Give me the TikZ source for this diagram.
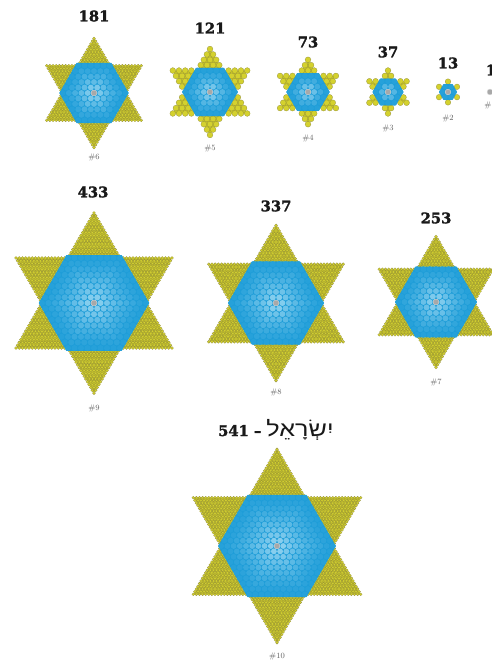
\documentclass[tikz,border=0pt]{standalone}
\usepackage{fontspec}
\newfontfamily\numfont[BoldFont={DejaVu Serif Bold}, BoldFeatures={FakeBold=1.8}]{DejaVu Serif}
\newfontfamily\hebfont[Script=Hebrew]{Liberation Sans}
\TeXXeTstate=1
\definecolor{ylwbg}{HTML}{CBC826}
\definecolor{ylwdot}{HTML}{D4D12E}
\definecolor{ylwline}{HTML}{8E8A3A}
\definecolor{bluebg}{HTML}{1E9DD8}
\definecolor{bluelt}{HTML}{A8DEF5}
\definecolor{centre}{HTML}{A8A8A8}
\definecolor{centreline}{HTML}{D8D8D8}
\tikzset{
  numlabel/.style={font=\numfont\bfseries\fontsize{14.7}{16}\selectfont, text=black!90, inner sep=0pt},
  idlabel/.style={font=\fontsize{8}{9}\selectfont, text=black!62, inner sep=0pt},
}
\newif\ifhsin
% #1 a, #2 b, #3 M : true if point is in the hexagram of order M but outside its hexagon
\newcommand\hsstartest[3]{%
  \hsinfalse
  \edef\hsc{\the\numexpr#1+#2\relax}%
  \ifnum#1>#3 \else\ifnum#2>#3 \else\ifnum\hsc<-#3 \else\hsintrue\fi\fi\fi
  \ifnum#1<-#3 \else\ifnum#2<-#3 \else\ifnum\hsc>#3 \else\hsintrue\fi\fi\fi
  \ifhsin
    \ifnum#1>#3 \else\ifnum#1<-#3 \else\ifnum#2>#3 \else\ifnum#2<-#3 \else
      \ifnum\hsc>#3 \else\ifnum\hsc<-#3 \else\hsinfalse\fi\fi\fi\fi\fi\fi
  \fi
}
% #1 cx, #2 cy, #3 m (=n-1), #4 spacing, #5 fineness of the yellow lattice
\newcommand\hexstar[5]{%
  \begin{scope}[shift={(#1,#2)}]
    \pgfmathsetmacro\sd{#4}%
    \pgfmathsetmacro\sdh{#4/#5}%
    \pgfmathsetmacro\sr{0.47*#4}%
    \pgfmathsetmacro\srh{0.47*#4/#5}%
    \pgfmathsetmacro\sR{1.7320508*#3*#4}%
    \pgfmathsetmacro\sH{(#3+0.5)*#4}%
    \edef\sm{#3}%
    \edef\sM{\the\numexpr#5*#3\relax}%
    \edef\sMM{\the\numexpr2*#5*#3\relax}%
    \fill[ylwbg] (90:\sR) -- (210:\sR) -- (330:\sR) -- cycle;
    \fill[ylwbg] (30:\sR) -- (150:\sR) -- (270:\sR) -- cycle;
    \foreach \a in {-\sMM,...,\sMM}{%
      \foreach \b in {-\sMM,...,\sMM}{%
        \hsstartest{\a}{\b}{\sM}%
        \ifhsin
          \filldraw[fill=ylwdot, draw=ylwline, line width=0.22] ({(\a+0.5*\b)*\sdh},{0.8660254*\b*\sdh}) circle (\srh);
        \fi
      }%
    }%
    \fill[bluebg] (0:\sH) -- (60:\sH) -- (120:\sH) -- (180:\sH) -- (240:\sH) -- (300:\sH) -- cycle;
    \foreach \a in {-\sm,...,\sm}{%
      \foreach \b in {-\sm,...,\sm}{%
        \pgfmathtruncatemacro\sk{max(abs(\a),abs(\b),abs(\a+\b))}%
        \ifnum\sk=0
          \filldraw[fill=centre, draw=centreline, line width=0.4] (0,0) circle (\sr);
        \else\ifnum\sk>\sm \else
          \pgfmathtruncatemacro\spct{6+82*(1-\sk/\sm)^1.3}%
          \fill[bluelt!\spct!bluebg] ({(\a+0.5*\b)*\sd},{0.8660254*\b*\sd}) circle (\sr);
        \fi\fi
      }%
    }%
  \end{scope}%
}
\begin{document}
\begin{tikzpicture}[x=1pt,y=-1pt]
\useasboundingbox (0,0) rectangle (491,661);
\fill[white] (0,0) rectangle (491,661);
% row 1
\hexstar{94}{93}{5}{6.3}{2}
\hexstar{210}{92}{4}{6.2}{1}
\hexstar{308}{92}{3}{6.2}{1}
\hexstar{388}{92}{2}{6.2}{1}
\hexstar{448}{92}{1}{6.0}{1}
\filldraw[fill=centre, draw=centreline, line width=0.4] (490,92) circle (2.9);
% row 2
\hexstar{94}{303}{8}{6.5}{2}
\hexstar{276}{303}{7}{6.4}{2}
\hexstar{436}{302}{6}{6.3}{2}
% row 3
\hexstar{277}{546}{9}{6.2}{2}
% labels
\node[numlabel] (n6) at (94,16) {181};
\node[numlabel] (n5) at (210,28) {121};
\node[numlabel] (n4) at (308,42) {73};
\node[numlabel] (n3) at (388,52) {37};
\node[numlabel] (n2) at (448,63) {13};
\node[numlabel] (n1) at (491,70) {1};
\node[idlabel] (i6) at (94,157) {\#6};
\node[idlabel] (i5) at (210,148) {\#5};
\node[idlabel] (i4) at (308,138) {\#4};
\node[idlabel] (i3) at (388,128) {\#3};
\node[idlabel] (i2) at (448,118) {\#2};
\node[idlabel] (i1) at (490,105) {\#1};
\node[numlabel] (n9) at (93,192) {433};
\node[numlabel] (n8) at (276,206) {337};
\node[numlabel] (n7) at (436,218) {253};
\node[idlabel] (i9) at (94,408) {\#9};
\node[idlabel] (i8) at (276,392) {\#8};
\node[idlabel] (i7) at (436,382) {\#7};
\node[numlabel, anchor=base west] (n10) at (218,436) {541 – {\hebfont\mdseries\fontsize{21}{23}\selectfont\scalebox{1.2}[1]{\beginR יִשְׂרָאֵל\endR}}};
\node[idlabel] (i10) at (277,656) {\#10};
\end{tikzpicture}
\end{document}
